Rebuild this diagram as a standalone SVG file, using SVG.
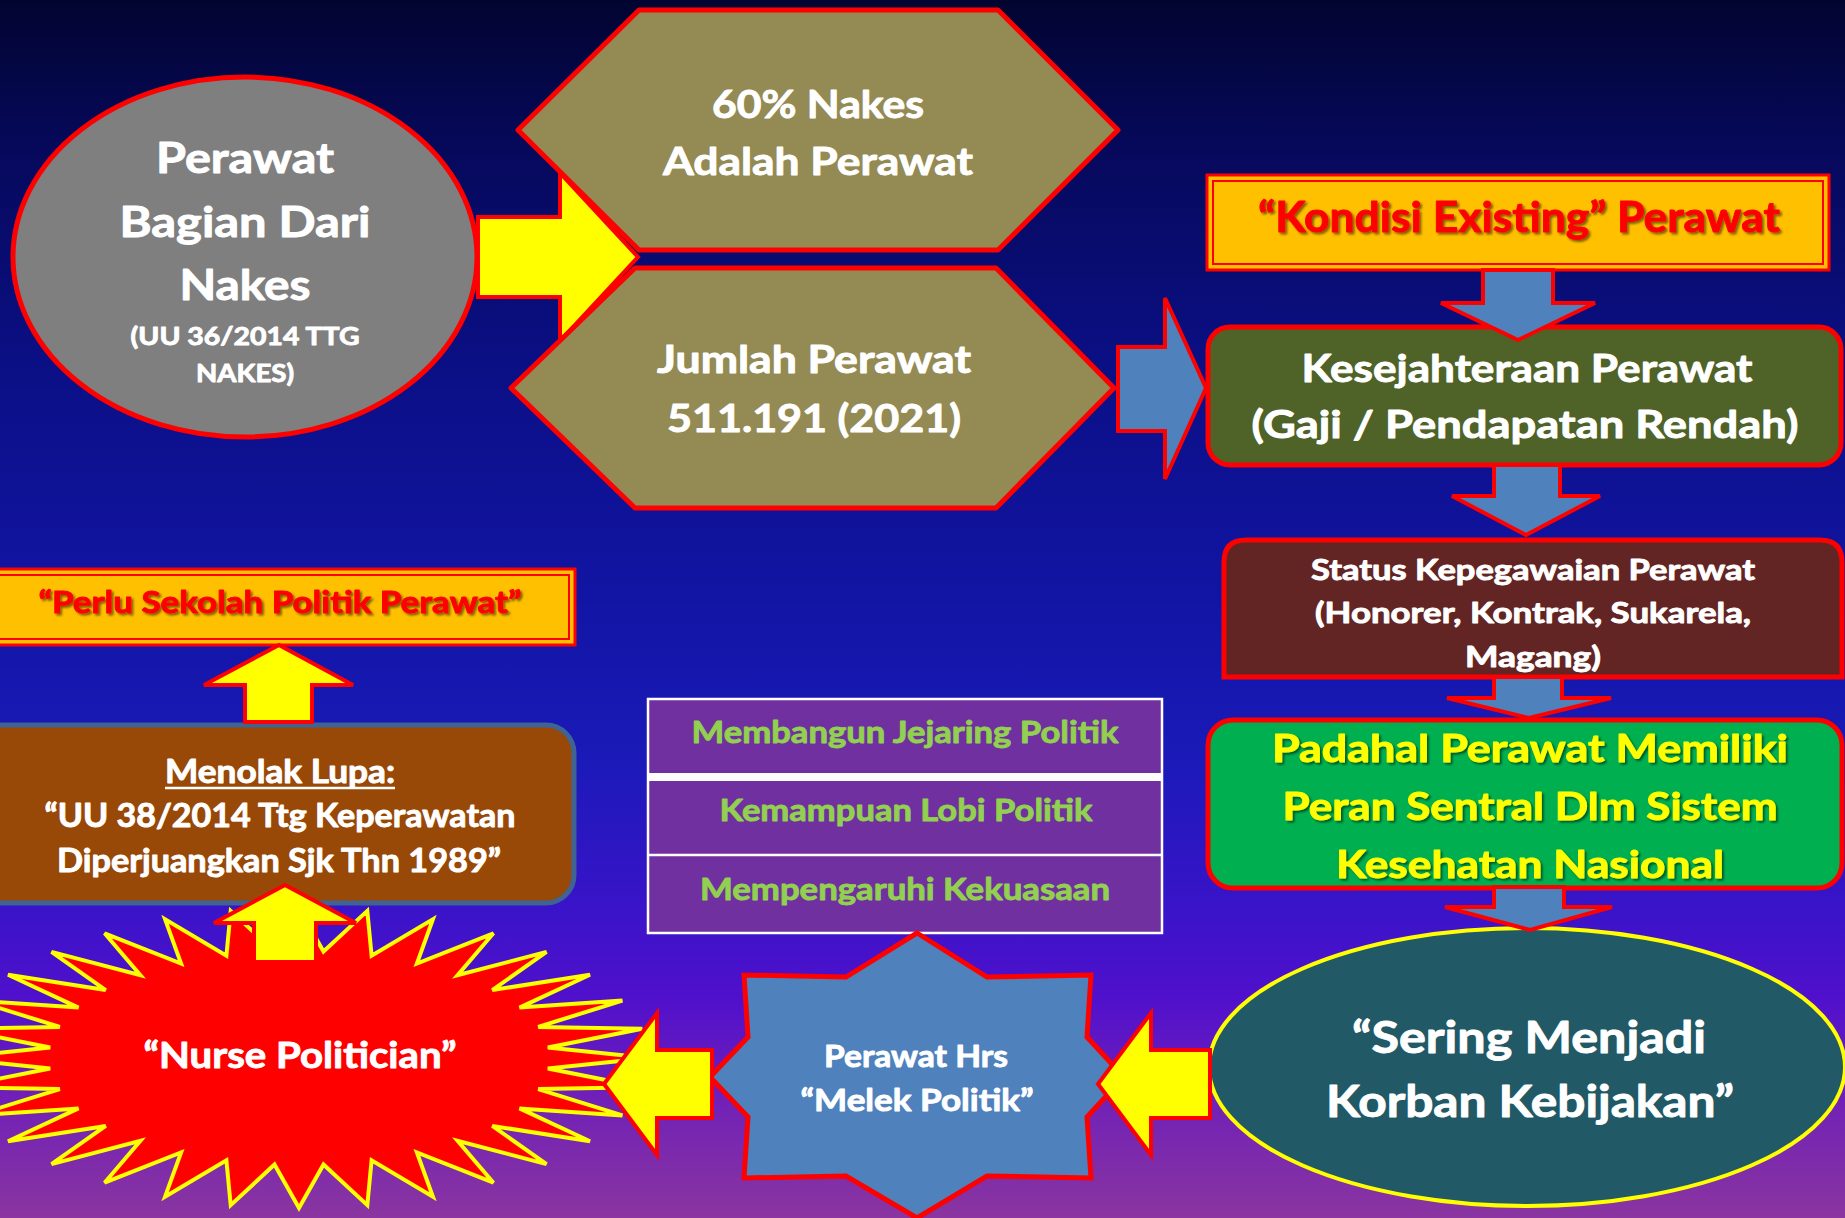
<svg xmlns="http://www.w3.org/2000/svg" width="1845" height="1218" viewBox="0 0 1845 1218">
<defs>
<linearGradient id="bg" x1="0" y1="0" x2="0" y2="1">
<stop offset="0" stop-color="#020430"/>
<stop offset="0.12" stop-color="#06095a"/>
<stop offset="0.3" stop-color="#0b0f85"/>
<stop offset="0.5" stop-color="#1215a5"/>
<stop offset="0.62" stop-color="#1a1ab8"/>
<stop offset="0.74" stop-color="#3814c8"/>
<stop offset="0.82" stop-color="#5010cc"/>
<stop offset="0.9" stop-color="#7020b8"/>
<stop offset="1" stop-color="#8a35a0"/>
</linearGradient>
<filter id="sh" x="-10%" y="-30%" width="120%" height="160%">
<feDropShadow dx="2" dy="2" stdDeviation="1.2" flood-color="#000" flood-opacity="0.5"/>
</filter>
<style>
text{font-family:Lato,"Open Sans","Liberation Sans",sans-serif;font-weight:700;text-anchor:middle;stroke-width:0.9;stroke-linejoin:round}
.w{fill:#ffffff;stroke:#ffffff}
.red{fill:#ff0000;stroke:#ff0000}
.yel{fill:#ffff00;stroke:#ffff00}
.grn{fill:#92d050;stroke:#92d050}
.ya{fill:#ffff00;stroke:#ff0000;stroke-width:4;stroke-linejoin:miter}
.ba{fill:#4f81bd;stroke:#ff0000;stroke-width:4;stroke-linejoin:miter}
.hex{fill:#948a54;stroke:#ff0000;stroke-width:5;stroke-linejoin:round}
</style>
</defs>
<rect x="0" y="0" width="1845" height="1218" fill="url(#bg)"/>

<g id="node-perawat-nakes">
<ellipse cx="245" cy="257" rx="232" ry="180" fill="#7f7f7f" stroke="#ff0000" stroke-width="5"/>
<text class="w" x="245" y="173" font-size="42" textLength="178" lengthAdjust="spacingAndGlyphs">Perawat</text>
<text class="w" x="245" y="237" font-size="42" textLength="251" lengthAdjust="spacingAndGlyphs">Bagian Dari</text>
<text class="w" x="245" y="300" font-size="42" textLength="131" lengthAdjust="spacingAndGlyphs">Nakes</text>
<text class="w" x="245" y="345" font-size="25" textLength="229" lengthAdjust="spacingAndGlyphs">(UU 36/2014 TTG</text>
<text class="w" x="245" y="382" font-size="25" textLength="98" lengthAdjust="spacingAndGlyphs">NAKES)</text>
</g>

<g id="node-kondisi-existing">
<rect x="1207" y="175" width="622" height="95" fill="#ffc000" stroke="#ff0000" stroke-width="3"/>
<rect x="1213" y="181" width="610" height="83" fill="none" stroke="#ff0000" stroke-width="2"/>
<text class="red" filter="url(#sh)" x="1519" y="232" font-size="42" textLength="522" lengthAdjust="spacingAndGlyphs">“Kondisi Existing” Perawat</text>
</g>

<g id="node-kesejahteraan">
<rect x="1208" y="327" width="633" height="138" rx="22" fill="#4f6228" stroke="#ff0000" stroke-width="5"/>
<text class="w" x="1527" y="382" font-size="38" textLength="451" lengthAdjust="spacingAndGlyphs">Kesejahteraan Perawat</text>
<text class="w" x="1525" y="438" font-size="38" textLength="547" lengthAdjust="spacingAndGlyphs">(Gaji / Pendapatan Rendah)</text>
</g>

<g id="node-status">
<path d="M1224,677 V562 Q1224,540 1246,540 H1820 Q1842,540 1842,562 V677 Z" fill="#632523" stroke="#ff0000" stroke-width="5"/>
<text class="w" x="1533" y="580" font-size="29" textLength="444" lengthAdjust="spacingAndGlyphs">Status Kepegawaian Perawat</text>
<text class="w" x="1533" y="623" font-size="29" textLength="436" lengthAdjust="spacingAndGlyphs">(Honorer, Kontrak, Sukarela,</text>
<text class="w" x="1533" y="667" font-size="29" textLength="136" lengthAdjust="spacingAndGlyphs">Magang)</text>
</g>

<g id="node-padahal">
<rect x="1208" y="720" width="634" height="168" rx="25" fill="#00b050" stroke="#ff0000" stroke-width="5"/>
<text class="yel" filter="url(#sh)" x="1530" y="762" font-size="38" textLength="516" lengthAdjust="spacingAndGlyphs">Padahal Perawat Memiliki</text>
<text class="yel" filter="url(#sh)" x="1530" y="820" font-size="38" textLength="495" lengthAdjust="spacingAndGlyphs">Peran Sentral Dlm Sistem</text>
<text class="yel" filter="url(#sh)" x="1530" y="878" font-size="38" textLength="388" lengthAdjust="spacingAndGlyphs">Kesehatan Nasional</text>
</g>

<g id="node-sering">
<ellipse cx="1527" cy="1067" rx="318" ry="139" fill="#215967" stroke="#ffff00" stroke-width="4"/>
<text class="w" x="1529" y="1053" font-size="43" textLength="354" lengthAdjust="spacingAndGlyphs">“Sering Menjadi</text>
<text class="w" x="1530" y="1117" font-size="43" textLength="408" lengthAdjust="spacingAndGlyphs">Korban Kebijakan”</text>
</g>

<g id="node-perlu-sekolah">
<rect x="-10" y="569" width="585" height="76" fill="#ffc000" stroke="#ff0000" stroke-width="3"/>
<rect x="-10" y="575" width="579" height="64" fill="none" stroke="#ff0000" stroke-width="2"/>
<text class="red" filter="url(#sh)" x="280" y="613" font-size="30" textLength="483" lengthAdjust="spacingAndGlyphs">“Perlu Sekolah Politik Perawat”</text>
</g>

<g id="node-menolak-lupa">
<rect x="-30" y="725" width="604" height="178" rx="28" fill="#984807" stroke="#3f6393" stroke-width="5"/>
<text class="w" x="280" y="783" font-size="32" textLength="230" lengthAdjust="spacingAndGlyphs">Menolak Lupa:</text>
<line x1="165" y1="788" x2="395" y2="788" stroke="#ffffff" stroke-width="2.5"/>
<text class="w" x="280" y="827" font-size="32" textLength="471" lengthAdjust="spacingAndGlyphs">“UU 38/2014 Ttg Keperawatan</text>
<text class="w" x="279" y="872" font-size="32" textLength="444" lengthAdjust="spacingAndGlyphs">Diperjuangkan Sjk Thn 1989”</text>
</g>

<g id="node-politik-table">
<rect x="648" y="699" width="514" height="234" fill="#7030a0" stroke="#ffffff" stroke-width="2.5"/>
<line x1="648" y1="777" x2="1162" y2="777" stroke="#ffffff" stroke-width="8"/>
<line x1="648" y1="855" x2="1162" y2="855" stroke="#ffffff" stroke-width="2.5"/>
<text class="grn" x="905" y="743" font-size="31" textLength="427" lengthAdjust="spacingAndGlyphs">Membangun Jejaring Politik</text>
<text class="grn" x="906" y="821" font-size="31" textLength="373" lengthAdjust="spacingAndGlyphs">Kemampuan Lobi Politik</text>
<text class="grn" x="905" y="900" font-size="31" textLength="410" lengthAdjust="spacingAndGlyphs">Mempengaruhi Kekuasaan</text>
</g>

<g id="node-nurse-politician">
<polygon transform="translate(299,1058)" fill="#ff0000" stroke="#ffff00" stroke-width="4" points="350,0 248.8,-10.5 343.3,-29.3 239.2,-31.1 323.4,-57.4 220.5,-50.4 291,-83.3 193.3,-67.9 247.5,-106.1 158.6,-82.7 194.4,-124.7 117.9,-94.4 133.9,-138.6 72.6,-102.4 68.3,-147.1 24.5,-106.5 0,-150 -24.5,-106.5 -68.3,-147.1 -72.6,-102.4 -133.9,-138.6 -117.9,-94.4 -194.4,-124.7 -158.6,-82.7 -247.5,-106.1 -193.3,-67.9 -291,-83.3 -220.5,-50.4 -323.4,-57.4 -239.2,-31.1 -343.3,-29.3 -248.8,-10.5 -350,0 -248.8,10.5 -343.3,29.3 -239.2,31.1 -323.4,57.4 -220.5,50.4 -291,83.3 -193.3,67.9 -247.5,106.1 -158.6,82.7 -194.4,124.7 -117.9,94.4 -133.9,138.6 -72.6,102.4 -68.3,147.1 -24.5,106.5 0,150 24.5,106.5 68.3,147.1 72.6,102.4 133.9,138.6 117.9,94.4 194.4,124.7 158.6,82.7 247.5,106.1 193.3,67.9 291,83.3 220.5,50.4 323.4,57.4 239.2,31.1 343.3,29.3 248.8,10.5"/>
<text class="w" x="300" y="1068" font-size="36" textLength="313" lengthAdjust="spacingAndGlyphs">“Nurse Politician”</text>
</g>

<g id="node-melek-politik">
<polygon fill="#4f81bd" stroke="#ff0000" stroke-width="5" stroke-linejoin="miter" points="917,933 987,977 1091,975 1087,1037 1124,1077 1087,1117 1091,1178 987,1176 917,1218 846,1176 744,1178 748,1117 710,1077 748,1037 744,975 846,977"/>
<text class="w" x="916" y="1067" font-size="31" textLength="184" lengthAdjust="spacingAndGlyphs">Perawat Hrs</text>
<text class="w" x="917" y="1111" font-size="31" textLength="233" lengthAdjust="spacingAndGlyphs">“Melek Politik”</text>
</g>

<g id="connectors">
<polygon class="ya" points="478,217 560,217 560,173 638,257 560,341 560,297 478,297"/>
<polygon class="ba" points="1118,347 1165,347 1165,298 1206,388 1165,479 1165,431 1118,431"/>
<polygon class="ba" points="1483,270 1553,270 1553,303 1595,303 1518,340 1441,303 1483,303"/>
<polygon class="ba" points="1494,465 1560,465 1560,496 1600,496 1526,535 1452,496 1494,496"/>
<polygon class="ba" points="1494,677 1562,677 1562,698 1611,698 1529,718 1447,698 1494,698"/>
<polygon class="ba" points="1494,887 1564,887 1564,907 1612,907 1530,930 1445,907 1494,907"/>
<polygon class="ya" points="1210,1050 1151,1050 1151,1013 1098,1084 1151,1155 1151,1118 1210,1118"/>
<polygon class="ya" points="712,1050 657,1050 657,1013 604,1084 657,1155 657,1118 712,1118"/>
<polygon class="ya" points="254,962 254,923 214,923 285,885 356,923 316,923 316,962"/>
<polygon class="ya" points="245,722 245,685 204,685 279,645 353,685 312,685 312,722"/>
</g>

<g id="node-60-persen">
<polygon class="hex" points="639,10 998,10 1118,130 998,250 639,250 518,130"/>
<text class="w" x="818" y="118" font-size="38" textLength="212" lengthAdjust="spacingAndGlyphs">60% Nakes</text>
<text class="w" x="818" y="175" font-size="38" textLength="310" lengthAdjust="spacingAndGlyphs">Adalah Perawat</text>
</g>

<g id="node-jumlah-perawat">
<polygon class="hex" points="635,268 996,268 1114,388 996,508 635,508 511,388"/>
<text class="w" x="814" y="373" font-size="38" textLength="314" lengthAdjust="spacingAndGlyphs">Jumlah Perawat</text>
<text class="w" x="814" y="432" font-size="38" textLength="294" lengthAdjust="spacingAndGlyphs">511.191 (2021)</text>
</g>
</svg>
